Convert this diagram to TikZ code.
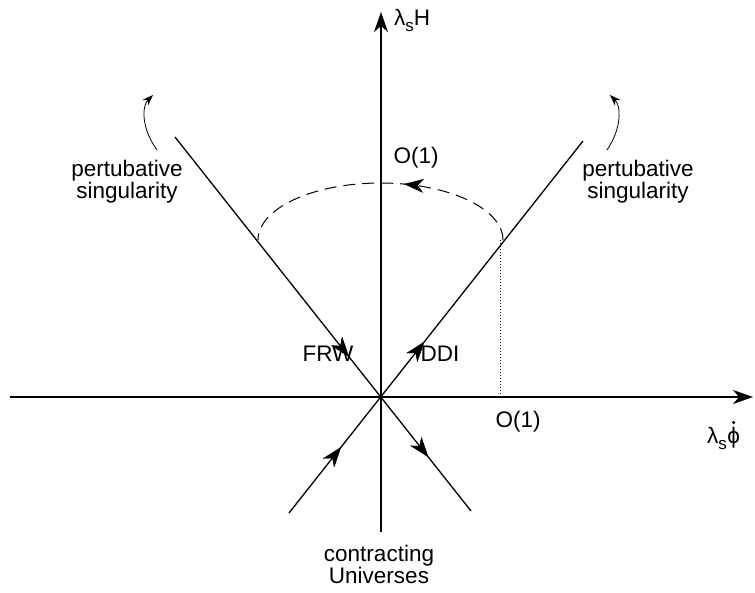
\documentclass[tikz,border=0pt]{standalone}
\usepackage{fontspec}
\setmainfont{Liberation Sans}
\usetikzlibrary{arrows.meta,decorations.markings}
\newcommand{\subs}[1]{\raisebox{-6pt}{\fontsize{17}{17}\selectfont #1}}
\begin{document}
\begin{tikzpicture}[x=1pt,y=-1pt,
  lbl/.style={inner sep=0pt,font=\fontsize{22.5}{22}\selectfont,align=center},
  thick line/.style={line width=1.3pt},
  bigtip/.style={-{Stealth[length=20pt,width=14pt,inset=6pt]}},
  midarrow/.style={postaction={decorate},decoration={markings,
      mark=at position #1 with {\arrow{Stealth[length=20pt,width=14pt,inset=6pt]}}}},
  curvearrow/.style={line width=0.8pt,-{Stealth[length=11pt,width=8pt,inset=3.5pt]}}]
\useasboundingbox (0,0) rectangle (755,592);
% coordinates
\coordinate (O) at (381,397);
\coordinate (xL) at (10,397);
\coordinate (xR) at (753,397);
\coordinate (yB) at (381,532);
\coordinate (yT) at (381,12);
\coordinate (UL) at (175,137);
\coordinate (LR) at (471,511);
\coordinate (LL) at (289,513);
\coordinate (UR) at (583,141);
\coordinate (eR) at (503,240);
\coordinate (dT) at (500,240);
\coordinate (dB) at (500,397);
% axes
\draw[thick line,bigtip] (xL) -- (xR);
\draw[thick line,bigtip] (yB) -- (yT);
% lines
\draw[thick line,midarrow=0.588,midarrow=0.856] (UL) -- (LR);
\draw[thick line,midarrow=0.177,midarrow=0.46] (LL) -- (UR);
% dashed arc
\draw[line width=1pt,dash pattern=on 12pt off 7pt,
  postaction={decorate},decoration={markings,
  mark=at position 0.42 with {\arrow{Stealth[length=20pt,width=14pt,inset=6pt]}}}]
  (eR) arc[start angle=0,end angle=-180,x radius=122.5,y radius=57];
% dotted
\draw[line width=0.8pt,dash pattern=on 1pt off 2pt] (dT) -- (dB);
% labels
\node[lbl,anchor=west] (lH) at (394,20) {λ\subs{s}H};
\node[lbl] (o1t) at (416,158) {O(1)};
\node[lbl] (o1b) at (518,422) {O(1)};
\node[lbl,anchor=base west] (lphi) at (707,443) {λ\subs{s}};
\node[lbl,anchor=base west] (phi) at (lphi.base east) {ϕ};
\fill ([yshift=4pt]phi.north) circle (1.8pt);
\node[lbl] (frw) at (328,354) {FRW};
\node[lbl] (ddi) at (440,354) {DDI};
\node[lbl] (psl) at (127,182) {pertubative\\singularity};
\node[lbl] (psr) at (638,182) {pertubative\\singularity};
\node[lbl] (cu) at (379,564) {contracting\\Universes};
% curved arrows
\coordinate (a1s) at (157,150);
\coordinate (a1e) at (153,95);
\coordinate (a2s) at (607,150);
\coordinate (a2e) at (610,95);
\draw[curvearrow] (a1s) .. controls (141,128) and (142,106) .. (a1e);
\draw[curvearrow] (a2s) .. controls (622,128) and (621,106) .. (a2e);
\end{tikzpicture}
\end{document}
